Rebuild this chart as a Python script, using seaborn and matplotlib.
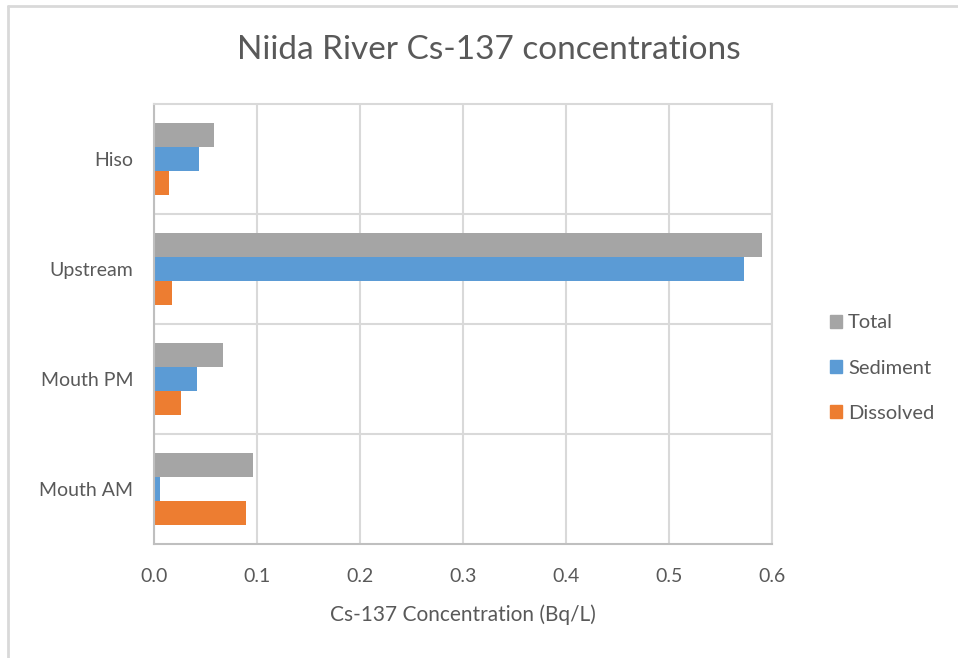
import matplotlib
matplotlib.use("Agg")
import matplotlib.pyplot as plt
import seaborn as sns
import pandas as pd
from matplotlib.lines import Line2D

categories = ["Hiso", "Upstream", "Mouth PM", "Mouth AM"]
series = ["Total", "Sediment", "Dissolved"]
total = [0.058, 0.590, 0.067, 0.096]
sediment = [0.044, 0.573, 0.042, 0.006]
dissolved = [0.015, 0.017, 0.026, 0.089]
xticks = [0.0, 0.1, 0.2, 0.3, 0.4, 0.5, 0.6]
colors = ["#A5A5A5", "#5B9BD5", "#ED7D31"]

rows = []
for name, vals in zip(series, [total, sediment, dissolved]):
    for c, v in zip(categories, vals):
        rows.append({"site": c, "series": name, "value": v})
df = pd.DataFrame(rows)

sns.set_theme(style="white")
plt.rcParams["font.family"] = ["Lato", "DejaVu Sans"]
text_color = "#595959"

fig = plt.figure(figsize=(9.58, 6.58), dpi=100)
ax = fig.add_axes([154 / 958, 1 - 544 / 658, (772 - 154) / 958, (544 - 104) / 658])

sns.barplot(data=df, y="site", x="value", hue="series", order=categories,
            hue_order=series, palette=colors, orient="h", width=0.655,
            gap=0, saturation=1, ax=ax, edgecolor="none", linewidth=0)

ax.set_xlim(0, 0.6)
ax.set_ylim(3.5, -0.5)
ax.set_xticks(xticks)
ax.set_xticklabels([f"{t:.1f}" for t in xticks])
ax.set_yticks(range(len(categories)))
ax.set_yticklabels(categories)
ax.set_yticks([0.5, 1.5, 2.5], minor=True)
ax.grid(True, axis="x", which="major", color="#D9D9D9", linewidth=1.5)
ax.grid(True, axis="y", which="minor", color="#D9D9D9", linewidth=1.5)
ax.grid(False, axis="y", which="major")
ax.set_axisbelow(True)
ax.tick_params(axis="both", which="both", length=0, labelsize=14,
               labelcolor=text_color)
ax.tick_params(axis="x", pad=17)
ax.tick_params(axis="y", pad=15)
for s in ["top", "right"]:
    ax.spines[s].set_color("#D9D9D9")
    ax.spines[s].set_linewidth(1.5)
for s in ["left", "bottom"]:
    ax.spines[s].set_color("#BFBFBF")
    ax.spines[s].set_linewidth(1.5)

ax.set_xlabel("Cs-137 Concentration (Bq/L)", fontsize=15, color=text_color,
              labelpad=14)
ax.set_ylabel("")

fig.text(489 / 958, 1 - 50 / 658, "Niida River Cs-137 concentrations",
         ha="center", va="center", fontsize=24, color=text_color)

handles = [plt.Rectangle((0, 0), 1, 1, color=c) for c in colors]
leg = fig.legend(handles, series, loc="center left",
                 bbox_to_anchor=(812 / 958, 1 - 368 / 658), frameon=False,
                 fontsize=14.5, handlelength=0.6, handleheight=0.6,
                 handletextpad=0.3, labelspacing=1.4, labelcolor=text_color)
if ax.get_legend():
    ax.get_legend().remove()

fig.add_artist(Line2D([7.5 / 958, 7.5 / 958], [0, 1 - 5.5 / 658],
                      transform=fig.transFigure, color="#D9D9D9", linewidth=2))
fig.add_artist(Line2D([7.5 / 958, 1], [1 - 5.5 / 658, 1 - 5.5 / 658],
                      transform=fig.transFigure, color="#D9D9D9", linewidth=2))

fig.savefig("out.png", dpi=100, facecolor="white")
